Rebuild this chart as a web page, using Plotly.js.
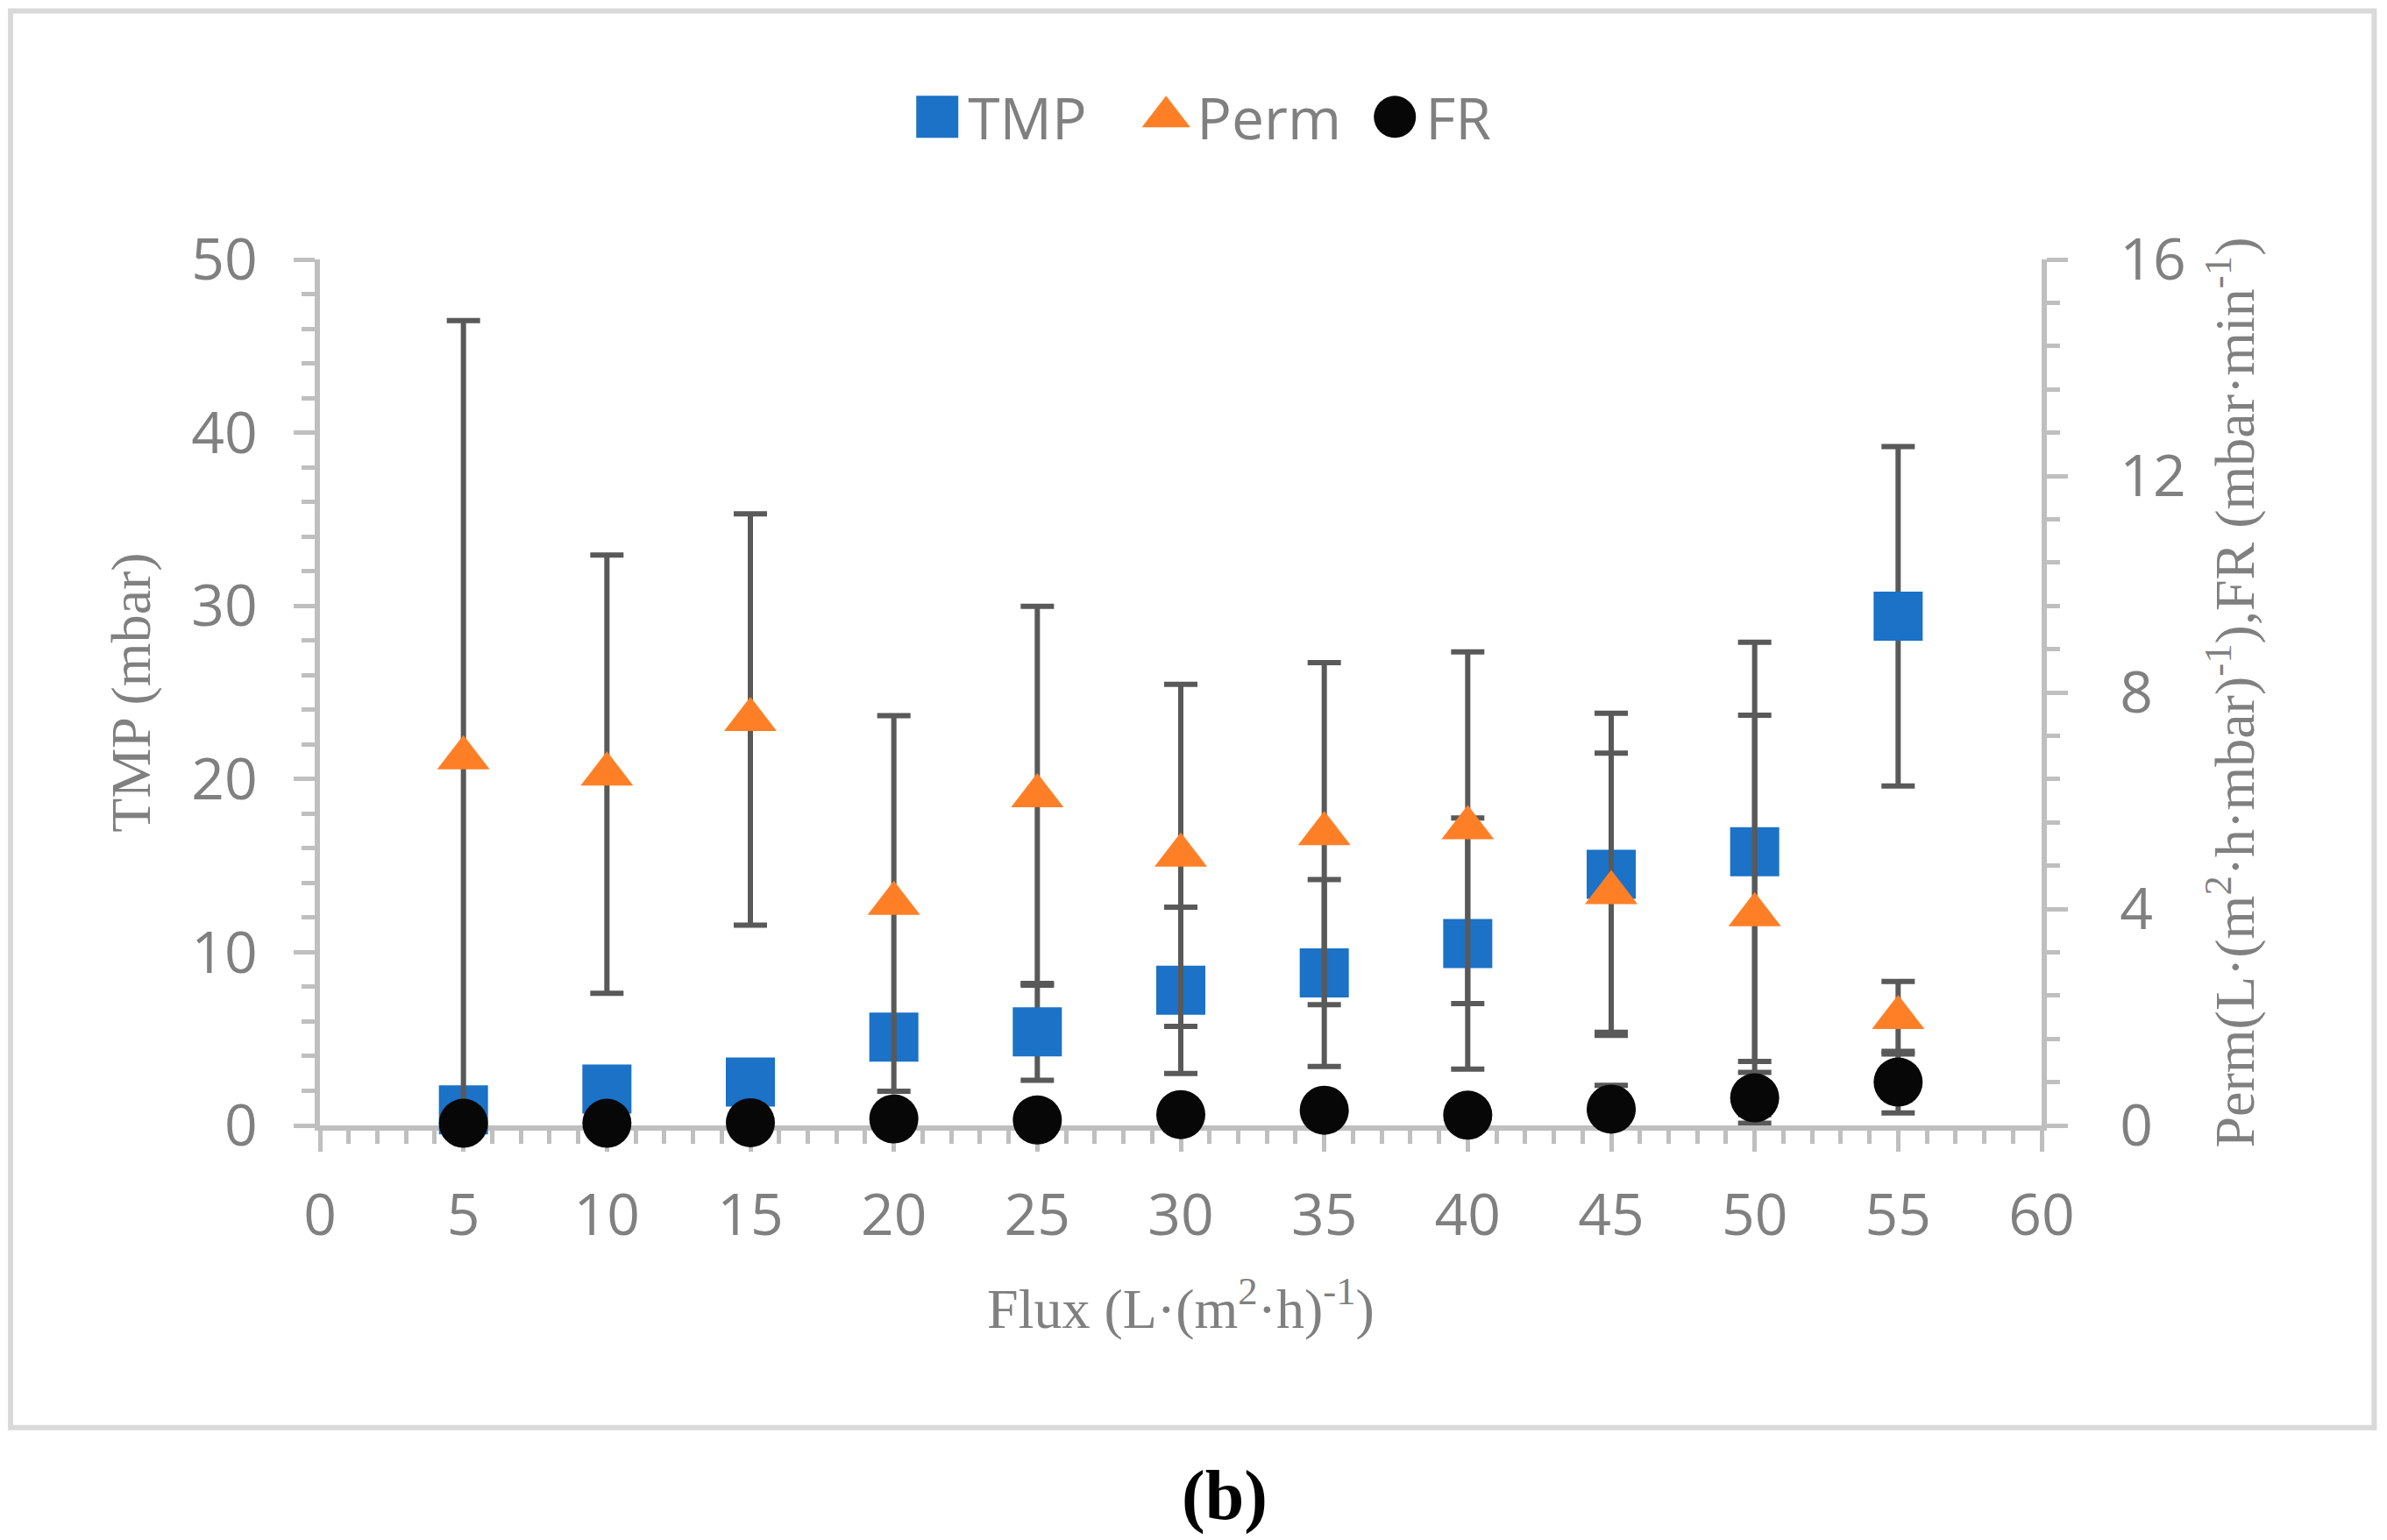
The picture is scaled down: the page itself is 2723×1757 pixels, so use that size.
<!DOCTYPE html>
<html>
<head>
<meta charset="utf-8">
<script src="https://cdn.plot.ly/plotly-3.0.1.min.js"></script>
<style>html,body{margin:0;padding:0;background:#fff;}</style>
</head>
<body>
<div id="chart" style="width:2723px;height:1757px;"></div>
<script>
// ---- data ----
const flux    = [5, 10, 15, 20, 25, 30, 35, 40, 45, 50, 55];
const tmp     = [0.9, 2.1, 2.5, 5.1, 5.4, 7.8, 8.8, 10.5, 14.5, 15.8, 29.4];
const tmpErr  = [0.5, 0.8, 1.0, 1.0, 2.8, 4.8, 5.4, 7.25, 9.3, 12.1, 9.8];
const perm    = [6.79, 6.49, 7.50, 4.10, 6.09, 4.99, 5.39, 5.50, 4.30, 3.89, 1.99];
const permErr = [8.08, 4.05, 3.80, 3.47, 3.50, 3.16, 3.16, 3.25, 2.58, 3.69, 0.67];
const fr      = [0.04, 0.04, 0.05, 0.12, 0.10, 0.20, 0.28, 0.19, 0.30, 0.51, 0.80];
const frErr   = [0.05, 0.05, 0.05, 0.20, 0.20, 0.20, 0.25, 0.25, 0.44, 0.47, 0.57];
const xTickVals = [0, 5, 10, 15, 20, 25, 30, 35, 40, 45, 50, 55, 60];

// ---- geometry ----
const W = 2723, H = 1757;
const PL = 365, PR = 2329.5, PT = 295.6, PB = 1284;
const pw = PR - PL, ph = PB - PT;
const px2x = v => (v - PL) / pw;
const px2y = v => (PB - v) / ph;

const GREY = '#808080', AX = '#BFBFBF', ERR = '#595959';
const tickFont = {family: 'Open Sans', size: 66, color: GREY};
const titleFont = {family: 'Liberation Serif', size: 64, color: GREY};

const clipMinus = (vals, errs) => errs.map((e, i) => Math.min(e, vals[i]));
function errBar(vals, errs) {
  return {type: 'data', symmetric: false, array: errs, arrayminus: clipMinus(vals, errs),
          color: ERR, thickness: 6, width: 19};
}

const data = [
  {name: 'TMP', x: flux, y: tmp, type: 'scatter', mode: 'markers', yaxis: 'y', cliponaxis: false,
   marker: {symbol: 'square', size: 56, color: '#1B72C6', line: {width: 0}},
   error_y: errBar(tmp, tmpErr)},
  {name: 'Perm', x: flux, y: perm, type: 'scatter', mode: 'markers', yaxis: 'y2', cliponaxis: false,
   marker: {symbol: 'triangle-up', size: 52, color: '#FF7F27', line: {width: 0}},
   error_y: errBar(perm, permErr)},
  {name: 'FR', x: flux, y: fr, type: 'scatter', mode: 'markers', yaxis: 'y2', cliponaxis: false,
   marker: {symbol: 'circle', size: 56, color: '#070707', line: {width: 0}},
   error_y: errBar(fr, frErr)}
];

const axisCommon = {
  showgrid: false, zeroline: false, showline: true, linecolor: AX, linewidth: 6,
  ticks: 'outside', ticklen: 24, tickwidth: 5, tickcolor: AX, tickfont: tickFont,
  layer: 'below traces', fixedrange: true
};

const layout = {
  width: W, height: H,
  paper_bgcolor: '#ffffff', plot_bgcolor: '#ffffff',
  font: {family: 'Open Sans', color: GREY},
  margin: {l: PL, r: W - PR, t: PT, b: H - PB, pad: 0},
  showlegend: true,
  legend: {orientation: 'h', x: px2x(1361 + 65), xanchor: 'center', y: px2y(133), yanchor: 'middle',
           font: {family: 'Open Sans', size: 66, color: GREY}, itemwidth: 60,
           entrywidth: 186, entrywidthmode: 'pixels',
           bgcolor: 'rgba(0,0,0,0)'},
  xaxis: Object.assign({}, axisCommon, {
    range: [0, 60], tickmode: 'array', tickvals: xTickVals, ticktext: xTickVals.map(String),
    minor: {dtick: 1, tick0: 0, ticks: 'outside', ticklen: 15, tickwidth: 5, tickcolor: AX},
    ticklabelstandoff: 16,
    title: {text: 'Flux (L·(m<sup>2</sup>·h)<sup>-1</sup>)', font: titleFont, standoff: 45}
  }),
  yaxis: Object.assign({}, axisCommon, {
    range: [0, 50], tick0: 0, dtick: 10,
    minor: {dtick: 2, tick0: 0, ticks: 'outside', ticklen: 15, tickwidth: 5, tickcolor: AX},
    ticklabelstandoff: 28,
    title: {text: 'TMP (mbar)', font: titleFont, standoff: 28}
  }),
  yaxis2: Object.assign({}, axisCommon, {
    overlaying: 'y', side: 'right', anchor: 'x',
    range: [0, 16], tick0: 0, dtick: 4,
    minor: {dtick: 0.8, tick0: 0, ticks: 'outside', ticklen: 15, tickwidth: 5, tickcolor: AX},
    ticklabelstandoff: 46,
    title: {text: 'Perm(L·(m<sup>2</sup>·h·mbar)<sup>-1</sup>),FR (mbar·min<sup>-1</sup>)', font: titleFont, standoff: 36}
  }),
  shapes: [{
    type: 'rect', xref: 'paper', yref: 'paper', layer: 'below',
    x0: px2x(12), x1: px2x(2709), y0: px2y(1629), y1: px2y(12),
    line: {color: '#D9D9D9', width: 6}, fillcolor: 'rgba(0,0,0,0)'
  }],
  annotations: [{
    text: '<b>(b)</b>', xref: 'paper', yref: 'paper', x: px2x(1397), y: px2y(1707),
    xanchor: 'center', yanchor: 'middle', showarrow: false,
    font: {family: 'Liberation Serif', size: 80, color: '#000000'}
  }]
};

Plotly.newPlot('chart', data, layout, {displayModeBar: false, responsive: false}).then(gd => {
  gd.querySelectorAll('.legend .legendpoints path.scatterpts').forEach(p => {
    const t = p.getAttribute('transform') || '';
    p.setAttribute('transform', t + ' scale(3)');
  });
});
</script>
</body>
</html>
